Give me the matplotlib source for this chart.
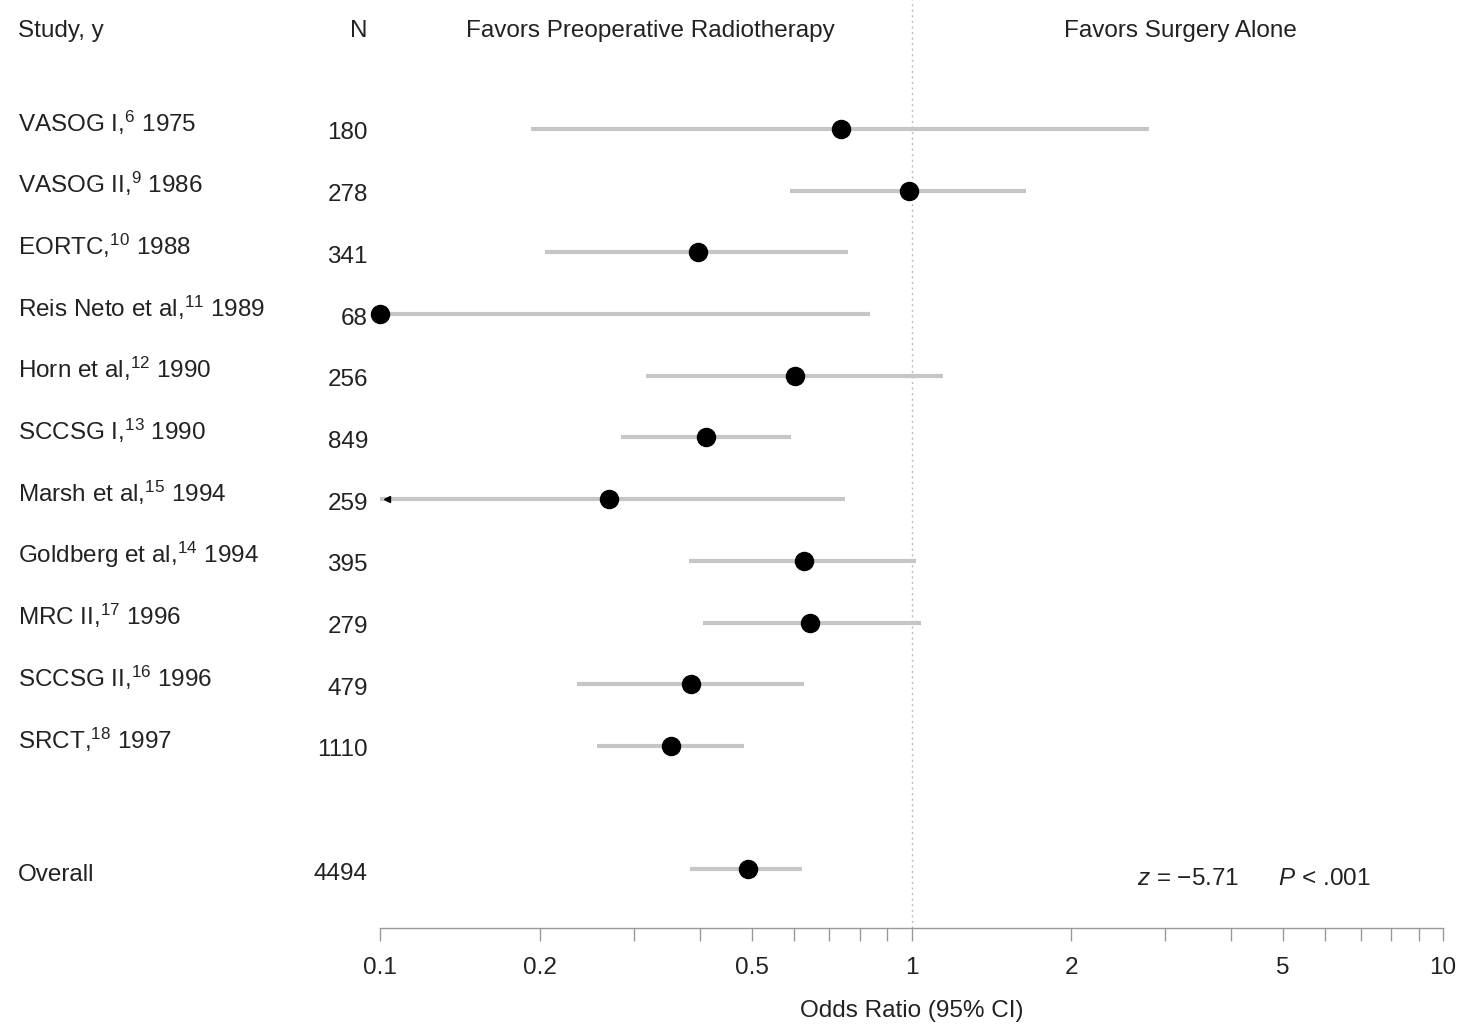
import matplotlib.pyplot as plt
from matplotlib.transforms import blended_transform_factory
from matplotlib.ticker import FixedLocator, NullFormatter


# ======================================
# DATA
# ======================================

studies = [
    "VASOG I,$^{\\mathrm{6}}$ 1975",
    "VASOG II,$^{\\mathrm{9}}$ 1986",
    "EORTC,$^{\\mathrm{10}}$ 1988",
    "Reis Neto et al,$^{\\mathrm{11}}$ 1989",
    "Horn et al,$^{\\mathrm{12}}$ 1990",
    "SCCSG I,$^{\\mathrm{13}}$ 1990",
    "Marsh et al,$^{\\mathrm{15}}$ 1994",
    "Goldberg et al,$^{\\mathrm{14}}$ 1994",
    "MRC II,$^{\\mathrm{17}}$ 1996",
    "SCCSG II,$^{\\mathrm{16}}$ 1996",
    "SRCT,$^{\\mathrm{18}}$ 1997",
    "Overall",
]
n_values = ["180", "278", "341", "68", "256", "849", "259", "395", "279", "479", "1110", "4494"]

odds_ratio = [0.736, 0.99, 0.396, 0.10, 0.604, 0.41, 0.27, 0.628, 0.644, 0.385, 0.353, 0.493]
ci_low = [0.192, 0.59, 0.204, 0.10, 0.316, 0.284, 0.05, 0.381, 0.405, 0.235, 0.256, 0.383]
ci_high = [2.80, 1.64, 0.759, 0.836, 1.146, 0.593, 0.75, 1.02, 1.04, 0.628, 0.484, 0.622]

row_pos = [0, 1, 2, 3, 4, 5, 6, 7, 8, 9, 10, 12]

x_min, x_max = 0.1, 10

# ======================================
# STYLE
# ======================================

plt.rcParams['font.family'] = ['Liberation Sans', 'DejaVu Sans']
plt.rcParams['mathtext.fontset'] = 'custom'
plt.rcParams['mathtext.rm'] = 'Liberation Sans'
plt.rcParams['mathtext.it'] = 'Liberation Sans:italic'

text_color = '#222222'
fs = 17.5

fig = plt.figure(figsize=(14.63, 10.28), dpi=100)
ax = fig.add_axes([380 / 1463, 100 / 1028, 1063 / 1463, 928 / 1028])

ax.set_xscale('log')
ax.set_xlim(x_min, x_max)
ax.set_ylim(12.95, -2.09)

# reference line
ax.axvline(1, color='#bbbbbb', linestyle=(0, (1.5, 2.5)), linewidth=1, zorder=1)

# ======================================
# CI LINES AND POINTS
# ======================================

for i, y in enumerate(row_pos):
    lo = max(ci_low[i], x_min)
    ax.plot([lo, ci_high[i]], [y, y], color='#c6c6c6', linewidth=3,
            solid_capstyle='butt', zorder=2, clip_on=False)
    if ci_low[i] < x_min:
        ax.plot([x_min * 1.03], [y], marker='<', color='black', markersize=5,
                zorder=3, clip_on=False)
    ax.plot([odds_ratio[i]], [y], marker='o', color='black', markersize=13,
            zorder=4, clip_on=False)

# ======================================
# TEXT COLUMNS
# ======================================

trans = blended_transform_factory(fig.transFigure, ax.transData)
ax_trans = blended_transform_factory(ax.transAxes, ax.transData)

for i, y in enumerate(row_pos):
    # the overall row sits lower than the study rows
    label_off = 0.19 if studies[i] == "Overall" else 0.04
    ax.text(18 / 1463, y + label_off, studies[i], transform=trans, ha='left',
            va='baseline', fontsize=fs, color=text_color, clip_on=False)
    ax.text(368 / 1463, y + 0.17, n_values[i], transform=trans, ha='right',
            va='baseline', fontsize=fs, color=text_color, clip_on=False)

header_y = -1.49
ax.text(18 / 1463, header_y, "Study, y", transform=trans, ha='left',
        va='baseline', fontsize=fs, color=text_color)
ax.text(368 / 1463, header_y, "N", transform=trans, ha='right',
        va='baseline', fontsize=fs, color=text_color)
ax.text(0.254, header_y, "Favors Preoperative Radiotherapy", ha='center',
        va='baseline', fontsize=fs, color=text_color, transform=ax_trans)
ax.text(0.7526, header_y, "Favors Surgery Alone", ha='center',
        va='baseline', fontsize=fs, color=text_color, transform=ax_trans)

ax.text(7.3, 12.15, "$\\mathit{z}$ = \u22125.71      $\\mathit{P}$ < .001", ha='right',
        va='center', fontsize=fs, color=text_color)

# ======================================
# AXES
# ======================================

for side in ['top', 'right', 'left']:
    ax.spines[side].set_visible(False)
ax.spines['bottom'].set_color('#999999')
ax.spines['bottom'].set_linewidth(1)

ax.set_yticks([])
ax.xaxis.set_major_locator(FixedLocator([0.1, 0.2, 0.5, 1, 2, 5, 10]))
ax.set_xticklabels(["0.1", "0.2", "0.5", "1", "2", "5", "10"])
ax.xaxis.set_minor_locator(FixedLocator([0.3, 0.4, 0.6, 0.7, 0.8, 0.9, 3, 4, 6, 7, 8, 9]))
ax.xaxis.set_minor_formatter(NullFormatter())
ax.tick_params(axis='x', which='both', length=9, width=1, color='#999999',
               labelsize=fs, labelcolor=text_color, pad=12)

ax.set_xlabel("Odds Ratio (95% CI)", fontsize=fs, color=text_color, labelpad=15)

fig.savefig("out.png", dpi=100)
